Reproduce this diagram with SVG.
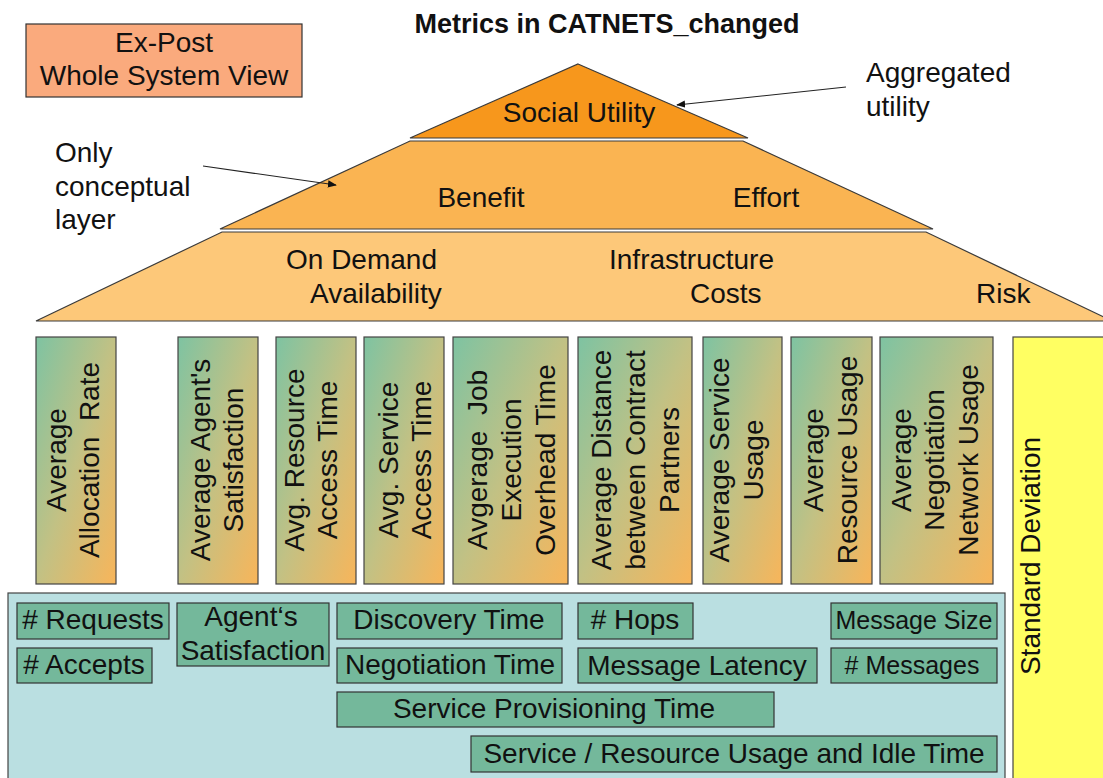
<svg xmlns="http://www.w3.org/2000/svg" width="1103" height="778" viewBox="0 0 1103 778">
  <defs>
    <linearGradient id="barGrad" x1="0" y1="0" x2="1" y2="1">
      <stop offset="0" stop-color="#7EC3A2"/>
      <stop offset="0.5" stop-color="#C2C184"/>
      <stop offset="1" stop-color="#F8B55A"/>
    </linearGradient>
    <marker id="arrow" viewBox="0 0 10 10" refX="9" refY="5" markerWidth="9" markerHeight="9" markerUnits="userSpaceOnUse" orient="auto">
      <path d="M0,1 L10,5 L0,9 Z" fill="#111"/>
    </marker>
    <style>
      text { font-family: "Liberation Sans", Arial, sans-serif; fill: #111; }
      .t28 { font-size: 28px; }
      .t25 { font-size: 25px; }
      .title { font-size: 27px; font-weight: bold; }
      .mid { text-anchor: middle; }
      .layer { stroke: #3a3a3a; stroke-width: 1.2; }
      .bar { fill: url(#barGrad); stroke: #444; stroke-width: 1.2; }
      .box { fill: #74B89B; stroke: #333; stroke-width: 1.2; }
      .conn { stroke: #222; stroke-width: 1.1; fill: none; }
    </style>
  </defs>

  <rect x="0" y="0" width="1103" height="778" fill="#ffffff"/>

  <g id="title">
    <text class="title mid" x="607" y="33">Metrics in CATNETS_changed</text>
  </g>

  <g id="expost">
    <rect x="26" y="24" width="276" height="73" fill="#FAAA7D" stroke="#333" stroke-width="1.2"/>
    <text class="t28 mid" x="164" y="52">Ex-Post</text>
    <text class="t28 mid" x="164" y="85">Whole System View</text>
  </g>

  <g id="note-conceptual">
    <text class="t28" x="55" y="162">Only</text>
    <text class="t28" x="55" y="196">conceptual</text>
    <text class="t28" x="55" y="229">layer</text>
  </g>

  <g id="note-aggregated">
    <text class="t28" x="866" y="82">Aggregated</text>
    <text class="t28" x="866" y="116">utility</text>
  </g>

  <g id="layer-risk">
    <polygon class="layer" points="222,232 926,232 1112,321 36,321" fill="#FDC879"/>
    <text class="t28" x="286" y="269">On Demand</text>
    <text class="t28" x="310" y="303">Availability</text>
    <text class="t28" x="609" y="269">Infrastructure</text>
    <text class="t28" x="690" y="303">Costs</text>
    <text class="t28" x="976" y="303">Risk</text>
  </g>

  <g id="layer-benefit">
    <polygon class="layer" points="410,141 743,141 933,229 220,229" fill="#FAB452"/>
    <text class="t28 mid" x="481" y="207">Benefit</text>
    <text class="t28 mid" x="766" y="207">Effort</text>
  </g>

  <g id="layer-social">
    <polygon class="layer" points="578,64 748,138 410,138" fill="#F7971C"/>
    <text class="t28 mid" x="579" y="122">Social Utility</text>
  </g>

  <g id="bar-allocation">
    <rect class="bar" x="36" y="337" width="80" height="247"/>
    <text class="t28 mid" transform="rotate(-90 66 460)" x="66" y="460" xml:space="preserve">Average</text>
    <text class="t28 mid" transform="rotate(-90 99 460)" x="99" y="460" xml:space="preserve">Allocation  Rate</text>
  </g>
  <g id="bar-satisfaction">
    <rect class="bar" x="178" y="337" width="80" height="247"/>
    <text class="t28 mid" transform="rotate(-90 210 460)" x="210" y="460">Average Agent's</text>
    <text class="t28 mid" transform="rotate(-90 243 460)" x="243" y="460">Satisfaction</text>
  </g>
  <g id="bar-resource-access">
    <rect class="bar" x="276" y="337" width="80" height="247"/>
    <text class="t28 mid" transform="rotate(-90 304 460)" x="304" y="460">Avg. Resource</text>
    <text class="t28 mid" transform="rotate(-90 337 460)" x="337" y="460">Access Time</text>
  </g>
  <g id="bar-service-access">
    <rect class="bar" x="364" y="337" width="80" height="247"/>
    <text class="t28 mid" transform="rotate(-90 398 460)" x="398" y="460">Avg. Service</text>
    <text class="t28 mid" transform="rotate(-90 431 460)" x="431" y="460">Access Time</text>
  </g>
  <g id="bar-job-overhead">
    <rect class="bar" x="453" y="337" width="115" height="247"/>
    <text class="t28 mid" transform="rotate(-90 487 460)" x="487" y="460" xml:space="preserve">Avgerage  Job</text>
    <text class="t28 mid" transform="rotate(-90 521 460)" x="521" y="460">Execution</text>
    <text class="t28 mid" transform="rotate(-90 555 460)" x="555" y="460">Overhead Time</text>
  </g>
  <g id="bar-distance">
    <rect class="bar" x="578" y="337" width="114" height="247"/>
    <text class="t28 mid" transform="rotate(-90 611 460)" x="611" y="460">Average Distance</text>
    <text class="t28 mid" transform="rotate(-90 645 460)" x="645" y="460">between Contract</text>
    <text class="t28 mid" transform="rotate(-90 679 460)" x="679" y="460">Partners</text>
  </g>
  <g id="bar-service-usage">
    <rect class="bar" x="703" y="337" width="79" height="247"/>
    <text class="t28 mid" transform="rotate(-90 729 460)" x="729" y="460">Average Service</text>
    <text class="t28 mid" transform="rotate(-90 763 460)" x="763" y="460">Usage</text>
  </g>
  <g id="bar-resource-usage">
    <rect class="bar" x="791" y="337" width="81" height="247"/>
    <text class="t28 mid" transform="rotate(-90 823 460)" x="823" y="460">Average</text>
    <text class="t28 mid" transform="rotate(-90 857 460)" x="857" y="460">Resource Usage</text>
  </g>
  <g id="bar-negotiation">
    <rect class="bar" x="880" y="337" width="113" height="247"/>
    <text class="t28 mid" transform="rotate(-90 911 460)" x="911" y="460">Average</text>
    <text class="t28 mid" transform="rotate(-90 944 460)" x="944" y="460">Negotiation</text>
    <text class="t28 mid" transform="rotate(-90 978 460)" x="978" y="460">Network Usage</text>
  </g>

  <g id="std-deviation">
    <rect x="1013" y="337" width="120" height="460" fill="#FFFF62" stroke="#444" stroke-width="1.2"/>
    <text class="t28 mid" transform="rotate(-90 1040 556)" x="1040" y="556">Standard Deviation</text>
  </g>

  <g id="raw-metrics">
    <rect x="8" y="593" width="997" height="210" fill="#BADFE1" stroke="#444" stroke-width="1.2"/>
  </g>
  <g id="m-requests">
    <rect class="box" x="17" y="603" width="152" height="36"/>
    <text class="t28 mid" x="93" y="629"># Requests</text>
  </g>
  <g id="m-accepts">
    <rect class="box" x="17" y="648" width="135" height="35"/>
    <text class="t28 mid" x="84" y="674"># Accepts</text>
  </g>
  <g id="m-agent-satisfaction">
    <rect class="box" x="177" y="603" width="152" height="63"/>
    <text class="t28 mid" x="251" y="626">Agent‘s</text>
    <text class="t28 mid" x="253" y="660">Satisfaction</text>
  </g>
  <g id="m-discovery">
    <rect class="box" x="337" y="603" width="225" height="36"/>
    <text class="t28 mid" x="449" y="629">Discovery Time</text>
  </g>
  <g id="m-negotiation">
    <rect class="box" x="337" y="648" width="225" height="35"/>
    <text class="t28 mid" x="450" y="674">Negotiation Time</text>
  </g>
  <g id="m-hops">
    <rect class="box" x="578" y="603" width="115" height="36"/>
    <text class="t28 mid" x="635" y="629"># Hops</text>
  </g>
  <g id="m-latency">
    <rect class="box" x="578" y="648" width="239" height="35"/>
    <text class="t28 mid" x="697" y="675">Message Latency</text>
  </g>
  <g id="m-size">
    <rect class="box" x="831" y="603" width="166" height="36"/>
    <text class="t25 mid" x="914" y="629">Message Size</text>
  </g>
  <g id="m-messages">
    <rect class="box" x="831" y="648" width="166" height="35"/>
    <text class="t25 mid" x="912" y="674"># Messages</text>
  </g>
  <g id="m-provisioning">
    <rect class="box" x="337" y="692" width="437" height="35"/>
    <text class="t28 mid" x="554" y="718">Service Provisioning Time</text>
  </g>
  <g id="m-usage-idle">
    <rect class="box" x="471" y="736" width="526" height="36"/>
    <text class="t28 mid" x="734" y="763">Service / Resource Usage and Idle Time</text>
  </g>

  <g id="connectors">
    <line class="conn" x1="846" y1="87" x2="677" y2="105" marker-end="url(#arrow)"/>
    <line class="conn" x1="203" y1="166" x2="336" y2="185" marker-end="url(#arrow)"/>
  </g>
</svg>
